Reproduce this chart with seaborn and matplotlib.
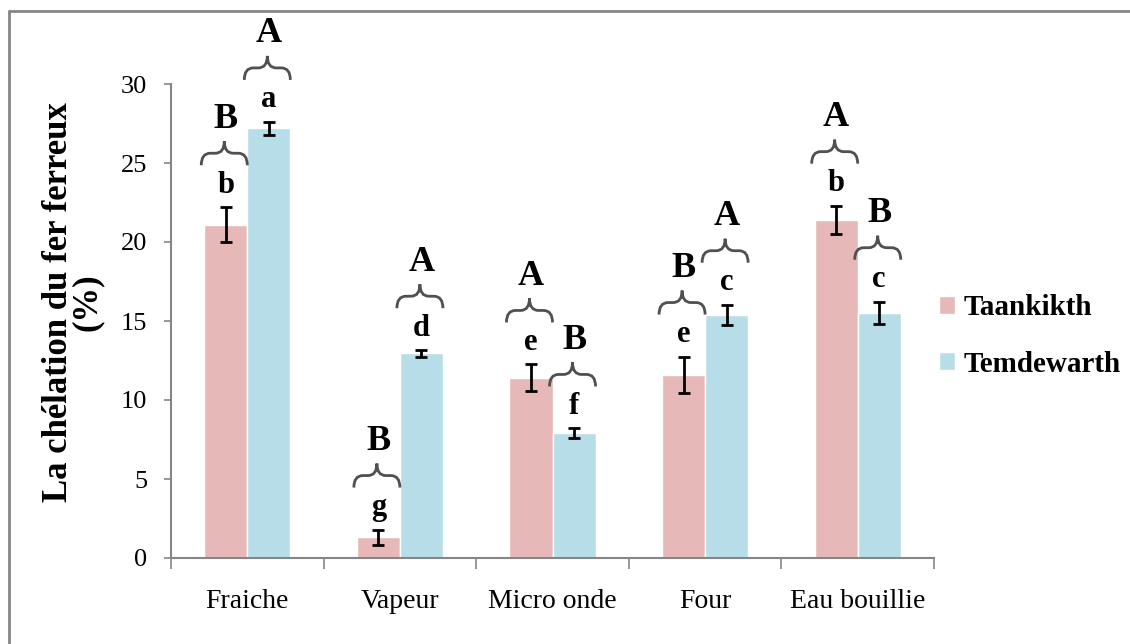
import numpy as np
import pandas as pd
import matplotlib
matplotlib.use("Agg")
import matplotlib.pyplot as plt
from matplotlib.path import Path
from matplotlib.patches import PathPatch
from matplotlib.lines import Line2D
import seaborn as sns

# Data
traitements = ["Fraiche", "Vapeur", "Micro onde", "Four", "Eau bouillie"]
varietes = ["Taankikth", "Temdewarth"]
taankikth = [21.1, 1.3, 11.4, 11.6, 21.4]
temdewarth = [27.2, 12.95, 7.9, 15.4, 15.5]
err_taankikth = [1.1, 0.5, 0.85, 1.15, 0.9]
err_temdewarth = [0.4, 0.2, 0.3, 0.63, 0.72]
# letters: lowercase above bars, uppercase above braces
minus_taankikth = ["b", "g", "e", "e", "b"]
minus_temdewarth = ["a", "d", "f", "c", "c"]
maj_taankikth = ["B", "B", "A", "B", "A"]
maj_temdewarth = ["A", "A", "B", "A", "B"]

pink = "#E6B9B8"
blue = "#B7DEE8"
gray = "#868686"

df = pd.DataFrame({
    "Traitement": traitements * 2,
    "Variete": [varietes[0]] * 5 + [varietes[1]] * 5,
    "Valeur": taankikth + temdewarth,
})

sns.set_style("white")
plt.rcParams["font.family"] = ["Liberation Serif", "DejaVu Serif"]
plt.rcParams["text.color"] = "black"
plt.rcParams["axes.labelcolor"] = "black"
plt.rcParams["xtick.labelcolor"] = "black"
plt.rcParams["ytick.labelcolor"] = "black"

fig, ax = plt.subplots(figsize=(11.3, 6.44), dpi=100)
fig.subplots_adjust(left=171 / 1130, right=934 / 1130, bottom=86 / 644, top=560 / 644)

sns.barplot(data=df, x="Traitement", y="Valeur", hue="Variete", order=traitements,
            hue_order=varietes, palette=[pink, blue], width=0.564, gap=0,
            saturation=1, errorbar=None, ax=ax)

ax.set_ylim(0, 30)
ax.set_xlim(-0.5, 4.5)
ax.set_yticks(range(0, 31, 5))
ax.set_xlabel("")
ax.set_ylabel("La chélation du fer ferreux\n(%)", fontsize=25, fontweight="bold",
              linespacing=0.82)
ax.yaxis.set_label_coords(-0.088, 0.54)

for s in ["top", "right"]:
    ax.spines[s].set_visible(False)
for s in ["left", "bottom"]:
    ax.spines[s].set_color(gray)
    ax.spines[s].set_linewidth(1.5)

ax.tick_params(axis="y", direction="out", length=5, width=1.2, color=gray,
               labelsize=19, pad=12, left=True)
ax.tick_params(axis="x", which="major", length=0, labelsize=20, pad=22)
ax.set_xticks(np.arange(-0.5, 5, 1), minor=True)
ax.tick_params(axis="x", which="minor", direction="out", length=8, width=1.2,
               color=gray, bottom=True)

# px -> data units
ax_h_px = (560 - 86)
unit = 30 / ax_h_px
ux = 5 / (934 - 171)


def draw_brace(ax, x0, x1, yb, yt):
    xc = (x0 + x1) / 2
    ym = yb + 0.5 * (yt - yb)
    r = 9 * ux
    verts = [(x0, yb), (x0, ym), (x0 + r, ym), (xc - r, ym), (xc, ym), (xc, yt),
             (xc, ym), (xc + r, ym), (x1 - r, ym), (x1, ym), (x1, yb)]
    codes = [Path.MOVETO, Path.CURVE3, Path.CURVE3, Path.LINETO, Path.CURVE3, Path.CURVE3,
             Path.CURVE3, Path.CURVE3, Path.LINETO, Path.CURVE3, Path.CURVE3]
    ax.add_patch(PathPatch(Path(verts, codes), facecolor="none", edgecolor="#505050",
                           lw=2, clip_on=False))


series = [
    (taankikth, err_taankikth, minus_taankikth, maj_taankikth),
    (temdewarth, err_temdewarth, minus_temdewarth, maj_temdewarth),
]
for cont, (vals, errs, lows, caps) in zip(ax.containers, series):
    xs = [p.get_x() + p.get_width() / 2 for p in cont]
    w = cont[0].get_width()
    ax.errorbar(xs, vals, yerr=errs, fmt="none", ecolor="black", elinewidth=2,
                capsize=4.5, capthick=2)
    for x, v, e, lo, up in zip(xs, vals, errs, lows, caps):
        top = v + e
        ax.text(x, top + 22 * unit, lo, ha="center", va="center", fontsize=22,
                fontweight="bold", clip_on=False)
        draw_brace(ax, x - w / 2 - 3 * ux, x + w / 2, top + 42 * unit, top + 66 * unit)
        ax.text(x, top + 88 * unit, up, ha="center", va="center", fontsize=26,
                fontweight="bold", clip_on=False)

handles, labels = ax.get_legend_handles_labels()
ax.legend(handles, labels, loc="center left", bbox_to_anchor=(939 / 1130, 1 - 336 / 644),
          bbox_transform=fig.transFigure, frameon=False, prop={"size": 21, "weight": "bold"},
          handlelength=0.55, handleheight=0.55, handletextpad=0.3, labelspacing=1.0,
          borderpad=0, borderaxespad=0)

# outer frame (top and left edges visible)
fig.add_artist(Line2D([9 / 1130, 1], [1 - 11 / 644, 1 - 11 / 644], color=gray, lw=2,
                      transform=fig.transFigure))
fig.add_artist(Line2D([9 / 1130, 9 / 1130], [0, 1 - 11 / 644], color=gray, lw=2,
                      transform=fig.transFigure))

fig.savefig("out.png", dpi=100)
